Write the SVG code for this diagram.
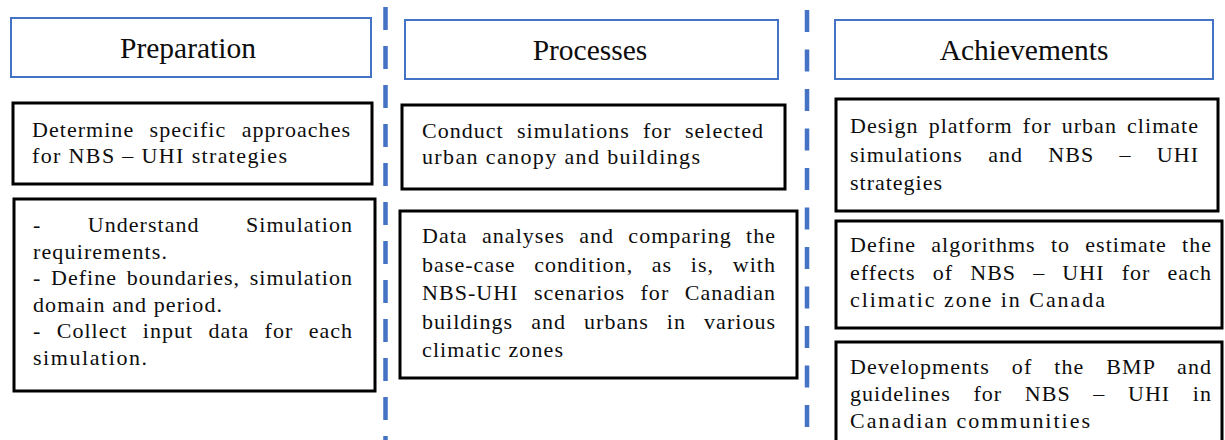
<svg xmlns="http://www.w3.org/2000/svg" width="1225" height="440" viewBox="0 0 1225 440">
  <style>
    .head { fill: #ffffff; stroke: #4472C4; stroke-width: 2; }
    .box { fill: #ffffff; stroke: #000000; stroke-width: 3; }
    .htxt { font-family: "Liberation Serif", "Times New Roman", serif; font-size: 29.5px; fill: #0d0d0d; text-anchor: middle; }
    .txt { font-family: "Liberation Serif", "Times New Roman", serif; font-size: 22px; fill: #0d0d0d; letter-spacing: 1px; }
    .divider { stroke: #4472C4; stroke-width: 4.5; fill: none; }
  </style>

  <rect width="1225" height="440" fill="#ffffff"/>

  <!-- column dividers -->
  <g id="connectors">
    <line class="divider" x1="385.5" y1="7" x2="385.5" y2="440" stroke-dasharray="23 16"/>
    <line class="divider" x1="807" y1="10" x2="807" y2="440" stroke-dasharray="22 17.5"/>
  </g>

  <!-- column headers -->
  <g id="header-preparation">
    <rect class="head" x="11" y="18" width="360" height="59"/>
    <text class="htxt" x="188" y="58">Preparation</text>
  </g>
  <g id="header-processes">
    <rect class="head" x="405" y="20" width="373" height="59"/>
    <text class="htxt" x="590" y="60">Processes</text>
  </g>
  <g id="header-achievements">
    <rect class="head" x="835" y="20" width="378" height="59"/>
    <text class="htxt" x="1024" y="60">Achievements</text>
  </g>

  <!-- Preparation column -->
  <g id="prep-approaches">
    <rect class="box" x="13" y="103" width="359" height="81"/>
    <text class="txt" x="32" y="136.5" textLength="319" lengthAdjust="spacing" word-spacing="8.9">Determine specific approaches</text>
    <text class="txt" x="32" y="162.5" textLength="256" lengthAdjust="spacing">for NBS – UHI strategies</text>
  </g>
  <g id="prep-requirements">
    <rect class="box" x="14" y="199" width="361" height="192"/>
    <text class="txt" x="33" y="232" textLength="320" lengthAdjust="spacing" word-spacing="39.8">- Understand Simulation</text>
    <text class="txt" x="33" y="258.5" textLength="135" lengthAdjust="spacing">requirements.</text>
    <text class="txt" x="33" y="285" textLength="320" lengthAdjust="spacing" word-spacing="3.1">- Define boundaries, simulation</text>
    <text class="txt" x="33" y="311.5" textLength="190" lengthAdjust="spacing">domain and period.</text>
    <text class="txt" x="33" y="338" textLength="320" lengthAdjust="spacing" word-spacing="8.8">- Collect input data for each</text>
    <text class="txt" x="33" y="364.5" textLength="115" lengthAdjust="spacing">simulation.</text>
  </g>

  <!-- Processes column -->
  <g id="proc-simulations">
    <rect class="box" x="402" y="105" width="383" height="84"/>
    <text class="txt" x="422" y="137.5" textLength="342" lengthAdjust="spacing" word-spacing="6.7">Conduct simulations for selected</text>
    <text class="txt" x="422" y="164" textLength="279" lengthAdjust="spacing">urban canopy and buildings</text>
  </g>
  <g id="proc-analyses">
    <rect class="box" x="400" y="211" width="397" height="167"/>
    <text class="txt" x="422" y="243" textLength="354" lengthAdjust="spacing" word-spacing="7.8">Data analyses and comparing the</text>
    <text class="txt" x="422" y="271.5" textLength="354" lengthAdjust="spacing" word-spacing="12.1">base-case condition, as is, with</text>
    <text class="txt" x="422" y="300" textLength="354" lengthAdjust="spacing" word-spacing="8.9">NBS-UHI scenarios for Canadian</text>
    <text class="txt" x="422" y="328.5" textLength="354" lengthAdjust="spacing" word-spacing="11.5">buildings and urbans in various</text>
    <text class="txt" x="422" y="357" textLength="142" lengthAdjust="spacing">climatic zones</text>
  </g>

  <!-- Achievements column -->
  <g id="ach-platform">
    <rect class="box" x="836" y="99" width="382" height="112"/>
    <text class="txt" x="850" y="133" textLength="349" lengthAdjust="spacing" word-spacing="3.6">Design platform for urban climate</text>
    <text class="txt" x="850" y="161.5" textLength="349" lengthAdjust="spacing" word-spacing="18.7">simulations and NBS – UHI</text>
    <text class="txt" x="850" y="190" textLength="93" lengthAdjust="spacing">strategies</text>
  </g>
  <g id="ach-algorithms">
    <rect class="box" x="836" y="221" width="386" height="107"/>
    <text class="txt" x="850" y="252" textLength="362" lengthAdjust="spacing" word-spacing="8.7">Define algorithms to estimate the</text>
    <text class="txt" x="850" y="279.5" textLength="362" lengthAdjust="spacing" word-spacing="10.5">effects of NBS – UHI for each</text>
    <text class="txt" x="850" y="307" textLength="256" lengthAdjust="spacing">climatic zone in Canada</text>
  </g>
  <g id="ach-guidelines">
    <rect class="box" x="836" y="342" width="386" height="110"/>
    <text class="txt" x="850" y="374" textLength="362" lengthAdjust="spacing" word-spacing="15.4">Developments of the BMP and</text>
    <text class="txt" x="850" y="401" textLength="362" lengthAdjust="spacing" word-spacing="16.1">guidelines for NBS – UHI in</text>
    <text class="txt" x="850" y="428" textLength="241" lengthAdjust="spacing">Canadian communities</text>
  </g>
</svg>
